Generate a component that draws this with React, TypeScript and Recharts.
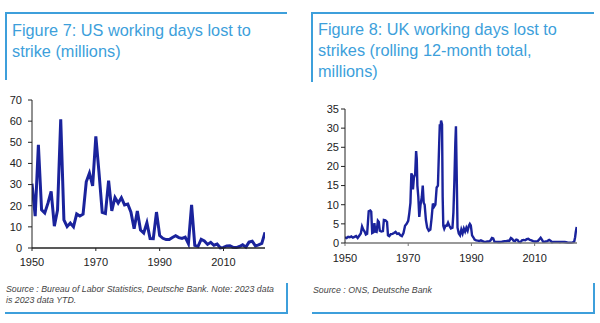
import React from "react";
import { LineChart, Line, XAxis, YAxis } from "recharts";

// US working days lost to strike (millions), annual
const usYears = [
  1950, 1951, 1952, 1953, 1954, 1955, 1956, 1957, 1958, 1959,
  1960, 1961, 1962, 1963, 1964, 1965, 1966, 1967, 1968, 1969,
  1970, 1971, 1972, 1973, 1974, 1975, 1976, 1977, 1978, 1979,
  1980, 1981, 1982, 1983, 1984, 1985, 1986, 1987, 1988, 1989,
  1990, 1991, 1992, 1993, 1994, 1995, 1996, 1997, 1998, 1999,
  2000, 2001, 2002, 2003, 2004, 2005, 2006, 2007, 2008, 2009,
  2010, 2011, 2012, 2013, 2014, 2015, 2016, 2017, 2018, 2019,
  2020, 2021, 2022, 2023,
];
const usDays = [
  30.4, 15.1, 48.8, 18.1, 16.6, 21.2, 26.8, 10.3, 17.9, 60.9,
  13.3, 10.1, 11.8, 10.0, 16.1, 15.1, 16.0, 31.3, 35.4, 29.4,
  52.8, 35.5, 16.8, 16.3, 31.8, 17.6, 23.9, 21.3, 23.8, 20.4,
  20.8, 16.9, 9.1, 17.5, 8.5, 7.1, 11.9, 4.5, 4.4, 17.0,
  5.9, 4.6, 4.0, 4.0, 5.0, 5.8, 4.9, 4.5, 5.1, 2.0,
  20.4, 1.2, 0.7, 4.1, 3.3, 1.7, 2.7, 1.3, 1.9, 0.1,
  0.3, 1.0, 1.1, 0.3, 0.2, 0.7, 1.5, 0.4, 2.8, 3.2,
  1.0, 1.5, 2.2, 7.4,
];

// UK working days lost to strikes, rolling 12-month total (millions)
const ukYears = [
  1950.0, 1950.5, 1951.0, 1951.5, 1952.0, 1952.5, 1953.0, 1953.5, 1954.0, 1954.5,
  1955.0, 1955.4, 1955.8, 1956.2, 1956.6, 1957.0, 1957.5, 1958.0, 1958.3, 1958.6,
  1959.0, 1959.3, 1959.6, 1960.0, 1960.4, 1960.7, 1961.0, 1961.5, 1962.0, 1962.3,
  1962.8, 1963.3, 1963.6, 1964.0, 1964.5, 1965.0, 1965.5, 1966.0, 1966.5, 1967.0,
  1967.5, 1968.0, 1968.5, 1969.0, 1969.5, 1970.0, 1970.3, 1970.7, 1971.0, 1971.3,
  1971.5, 1971.8, 1972.2, 1972.5, 1972.7, 1972.9, 1973.2, 1973.5, 1973.9, 1974.3,
  1974.6, 1974.9, 1975.2, 1975.6, 1976.0, 1976.5, 1977.0, 1977.4, 1977.8, 1978.2,
  1978.6, 1979.0, 1979.4, 1979.8, 1980.0, 1980.2, 1980.4, 1980.7, 1980.9, 1981.1,
  1981.4, 1981.8, 1982.2, 1982.6, 1983.0, 1983.5, 1984.0, 1984.3, 1984.6, 1984.9,
  1985.1, 1985.3, 1985.6, 1986.0, 1986.4, 1986.8, 1987.2, 1987.6, 1988.0, 1988.4,
  1988.8, 1989.2, 1989.5, 1989.8, 1990.2, 1990.6, 1991.0, 1991.5, 1992.0, 1992.5,
  1993.0, 1993.5, 1994.0, 1994.5, 1995.0, 1995.5, 1996.0, 1996.5, 1996.9, 1997.3,
  1998.0, 1998.5, 1999.0, 1999.5, 2000.0, 2000.5, 2001.0, 2001.5, 2002.0, 2002.5,
  2002.9, 2003.3, 2003.8, 2004.2, 2004.6, 2005.0, 2005.5, 2006.0, 2006.5, 2007.0,
  2007.5, 2008.0, 2008.5, 2009.0, 2009.5, 2010.0, 2010.5, 2011.0, 2011.5, 2011.9,
  2012.3, 2012.7, 2013.0, 2013.5, 2014.0, 2014.6, 2015.0, 2015.5, 2016.0, 2016.5,
  2017.0, 2017.5, 2018.0, 2018.5, 2019.0, 2019.5, 2020.0, 2020.5, 2021.0, 2021.5,
  2022.0, 2022.5, 2022.8, 2023.0, 2023.3,
];
const ukDays = [
  1.5, 1.3, 1.6, 1.5, 1.7, 1.4, 1.6, 1.8, 1.3, 1.9,
  2.5, 4.3, 3.5, 3.0, 2.2, 2.4, 8.3, 8.5, 8.2, 2.6,
  2.8, 5.2, 3.0, 2.9, 5.8, 5.5, 3.2, 3.0, 3.1, 6.0,
  5.9, 5.5, 2.0, 1.8, 2.3, 2.4, 2.6, 2.9, 2.4, 2.5,
  2.0, 1.8, 2.6, 4.5, 5.0, 5.8, 7.5, 10.5, 18.2, 17.5,
  14.0, 17.0, 18.0, 24.0, 22.0, 15.0, 12.0, 6.8, 10.0, 12.0,
  15.0, 10.5, 10.0, 6.0, 4.0, 3.2, 3.5, 6.5, 10.3, 9.5,
  10.0, 14.5, 15.0, 26.0, 31.0, 30.0, 32.0, 31.0, 12.0, 4.5,
  3.7, 4.5, 4.5, 5.3, 4.5, 3.8, 4.0, 8.0, 16.0, 26.0,
  30.5, 20.0, 4.0, 2.5, 2.0, 3.5, 2.5, 3.8, 3.0, 4.0,
  3.2, 4.5, 5.0, 4.6, 2.0, 1.5, 0.9, 0.7, 0.6, 0.5,
  0.7, 0.5, 0.3, 0.3, 0.4, 0.4, 0.6, 1.3, 1.2, 0.3,
  0.3, 0.25, 0.25, 0.3, 0.4, 0.5, 0.5, 0.6, 0.6, 1.3,
  1.1, 0.6, 0.5, 0.9, 0.8, 0.3, 0.2, 0.7, 0.8, 0.7,
  1.0, 1.1, 0.8, 0.7, 0.5, 0.4, 0.4, 0.5, 1.0, 1.4,
  0.9, 0.3, 0.3, 0.4, 0.5, 0.8, 0.6, 0.2, 0.3, 0.3,
  0.3, 0.3, 0.25, 0.3, 0.3, 0.25, 0.2, 0.1, 0.1, 0.1,
  0.15, 0.3, 1.5, 2.8, 4.2,
];

const xTicks = [1950, 1970, 1990, 2010];
const usYTicks = [0, 10, 20, 30, 40, 50, 60, 70];
const ukYTicks = [0, 5, 10, 15, 20, 25, 30, 35];

const titleUS = ["Figure 7: US working days lost to", "strike (millions)"];
const titleUK = ["Figure 8: UK working days lost to", "strikes (rolling 12-month total,", "millions)"];
const sourceUS = ["Source : Bureau of Labor Statistics, Deutsche Bank. Note: 2023 data", "is 2023 data YTD."];
const sourceUK = ["Source : ONS, Deutsche Bank"];

const usData = usYears.map((y, i) => ({ year: y, value: usDays[i] }));
const ukData = ukYears.map((y, i) => ({ year: y, value: ukDays[i] }));

const BLUE = "#3d9fdb";
const LINE = "#1a239c";
const FONT = "'Liberation Sans', Arial, sans-serif";
const tickStyle = { fontSize: 11, fill: "#222", fontFamily: FONT };

const box = (left: number, top: number, width: number, height: number): React.CSSProperties => ({
  position: "absolute", left, top, width, height, background: BLUE,
});

const titleStyle = (left: number, top: number): React.CSSProperties => ({
  position: "absolute", left, top, fontFamily: FONT, fontSize: 16.3, lineHeight: "21px",
  color: BLUE, whiteSpace: "nowrap",
});

const srcStyle = (left: number, top: number): React.CSSProperties => ({
  position: "absolute", left, top, fontFamily: FONT, fontSize: 8.8, lineHeight: "11px",
  color: "#444", fontStyle: "italic", whiteSpace: "nowrap",
});

export default function App() {
  return (
    <div style={{ position: "absolute", left: 0, top: 0, width: 600, height: 323, background: "#fff", overflow: "hidden" }}>
      {/* Left panel frame */}
      <div style={box(5, 12, 282, 2)} />
      <div style={box(5, 12, 2, 68)} />
      <div style={titleStyle(12, 20)}>
        {titleUS.map((t) => <div key={t}>{t}</div>)}
      </div>
      <div style={box(5, 312, 283, 2)} />
      <div style={box(286, 283, 2, 31)} />
      <div style={srcStyle(6, 284)}>
        {sourceUS.map((t) => <div key={t}>{t}</div>)}
      </div>

      {/* Right panel frame */}
      <div style={box(311, 12, 283, 2)} />
      <div style={box(311, 12, 2, 70)} />
      <div style={titleStyle(318, 19)}>
        {titleUK.map((t) => <div key={t}>{t}</div>)}
      </div>
      <div style={box(312, 312, 283, 2)} />
      <div style={box(593, 283, 2, 31)} />
      <div style={srcStyle(313, 285)}>
        {sourceUK.map((t) => <div key={t}>{t}</div>)}
      </div>

      {/* Left chart */}
      <div style={{ position: "absolute", left: 0, top: 90 }}>
        <LineChart width={290} height={183} data={usData} margin={{ top: 10, right: 25, bottom: 5, left: 0 }}>
          <XAxis
            dataKey="year" type="number" domain={[1950, 2023]} ticks={xTicks} allowDataOverflow
            height={20} tick={tickStyle} tickSize={3} tickMargin={7}
            axisLine={{ stroke: "#222", strokeWidth: 1.5 }} tickLine={{ stroke: "#222" }}
          />
          <YAxis
            type="number" domain={[0, 70]} ticks={usYTicks} width={32} tick={tickStyle}
            tickSize={4} tickMargin={6} axisLine={{ stroke: "#222" }} tickLine={{ stroke: "#222" }}
          />
          <Line type="linear" dataKey="value" stroke={LINE} strokeWidth={3} dot={false} isAnimationActive={false} />
        </LineChart>
      </div>

      {/* Right chart */}
      <div style={{ position: "absolute", left: 300, top: 90 }}>
        <LineChart width={295} height={178} data={ukData} margin={{ top: 19, right: 18, bottom: 5, left: 0 }}>
          <XAxis
            dataKey="year" type="number" domain={[1950, 2023.4]} ticks={xTicks} allowDataOverflow
            height={20} tick={tickStyle} tickSize={3} tickMargin={8}
            axisLine={{ stroke: "#777", strokeWidth: 1.5 }} tickLine={{ stroke: "#777" }}
          />
          <YAxis
            type="number" domain={[0, 35]} ticks={ukYTicks} width={45} tick={tickStyle}
            tickSize={4} tickMargin={2} axisLine={{ stroke: "#222" }} tickLine={{ stroke: "#222" }}
          />
          <Line type="linear" dataKey="value" stroke={LINE} strokeWidth={2.4} dot={false} isAnimationActive={false} />
        </LineChart>
      </div>
    </div>
  );
}
